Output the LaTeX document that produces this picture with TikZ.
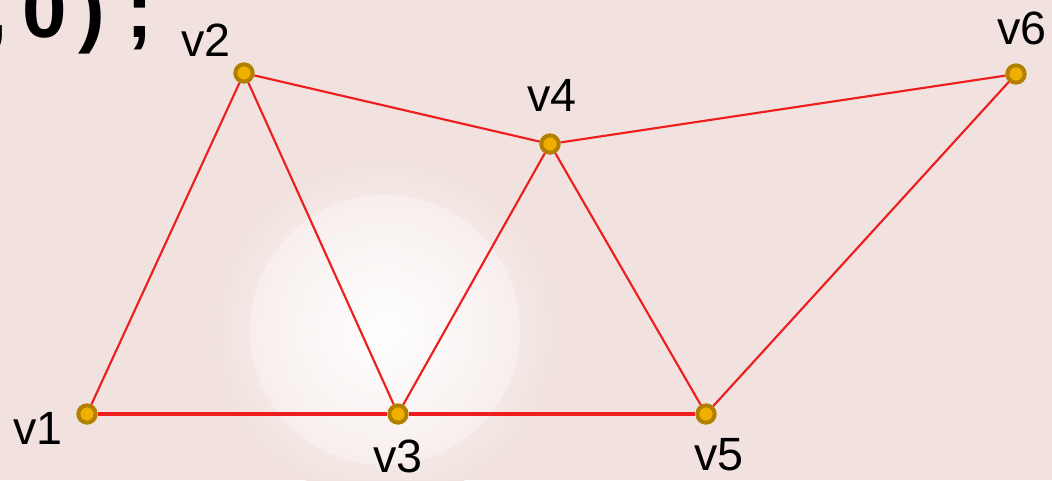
\documentclass[tikz,border=0pt]{standalone}
\usepackage{fontspec}
\setmainfont{Liberation Sans}
\definecolor{bgpink}{RGB}{241,226,223}
\definecolor{ringgold}{RGB}{178,128,0}
\definecolor{dotgold}{RGB}{240,176,0}
\definecolor{edgered}{RGB}{238,30,30}
\newcommand{\codech}[1]{\makebox[36pt]{#1}}
\tikzset{
  vert/.style={circle,fill=dotgold,draw=ringgold,line width=3pt,minimum size=13pt,inner sep=0pt},
  vlabel/.style={font=\fontsize{35}{40}\selectfont,inner sep=0pt},
  edge/.style={draw=edgered,line width=1.6pt}
}
\begin{document}
\begin{tikzpicture}[x=0.75pt,y=-0.75pt]
  \useasboundingbox (0,0) rectangle (1052,480);
  \clip (0,0) rectangle (1052,480);
  % blurred backdrop
  \fill[bgpink] (0,0) rectangle (1052,480);
  \shade[inner color=white,outer color=bgpink] (385,330) circle (170);
  \fill[white,opacity=.3] (385,330) circle (135);
  \node[font=\bfseries\fontsize{60}{70}\selectfont,anchor=base west,inner sep=0pt] (code) at (-28,37)
    {\codech{,}\codech{0}\codech{)}\codech{;}};
  % vertices
  \node[vert] (v1) at (87,414) {};
  \node[vert] (v2) at (244,73) {};
  \node[vert] (v3) at (398,414) {};
  \node[vert] (v4) at (550,144) {};
  \node[vert] (v5) at (706,414) {};
  \node[vert] (v6) at (1016,74) {};
  \node[vlabel] (l1) at (38,428) {v1};
  \node[vlabel] (l2) at (206,40) {v2};
  \node[vlabel] (l3) at (398,456) {v3};
  \node[vlabel] (l4) at (552,95) {v4};
  \node[vlabel] (l5) at (719,455) {v5};
  \node[vlabel] (l6) at (1022,28) {v6};
  % edges
  \draw[edge,line width=2.4pt] (v1) -- (v3) -- (v5);
  \draw[edge] (v1) -- (v2) -- (v3) -- (v4) -- (v5) -- (v6) -- (v4) -- (v2);
\end{tikzpicture}
\end{document}
